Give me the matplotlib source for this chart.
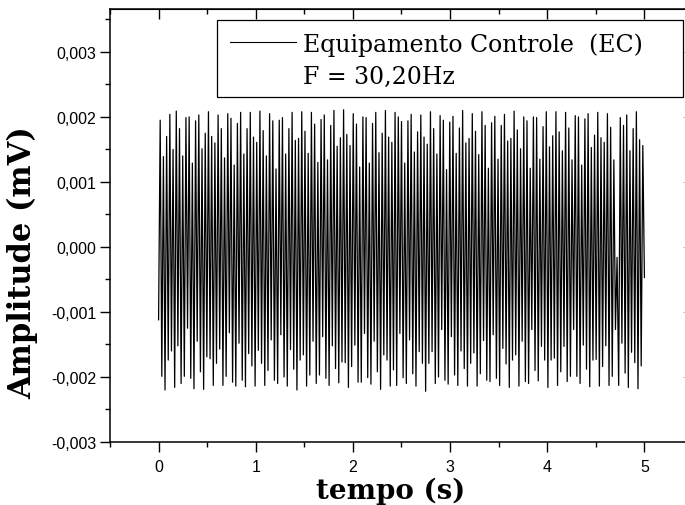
import matplotlib

matplotlib.use("Agg")
import matplotlib.pyplot as plt  # noqa: E402
import numpy as np  # noqa: E402
from matplotlib.patches import Rectangle  # noqa: E402
from matplotlib.ticker import FuncFormatter, MultipleLocator  # noqa: E402

W, H = 685, 506

# peak values per cycle (units of 1e-3 mV)
first_sample = -1.12
last_sample = -0.47
upper_peaks = [
    1.95, 1.39, 1.70, 2.04, 1.50, 2.09, 1.82, 1.40, 1.99, 2.00,
    1.29, 1.94, 2.03, 1.51, 1.75, 2.08, 1.70, 1.60, 2.03, 1.82,
    1.37, 2.05, 1.98, 1.26, 1.90, 2.07, 1.43, 1.82, 2.07, 1.69,
    1.61, 2.09, 1.79, 1.40, 2.05, 1.94, 1.20, 1.95, 1.99, 1.43,
    1.82, 2.07, 1.64, 1.67, 2.08, 1.78, 1.44,
    2.07, 1.89, 1.30, 1.96, 2.03, 1.34, 1.87, 2.10, 1.55, 1.68,
    2.11, 1.73, 1.56, 2.05, 1.89, 1.23, 2.00, 1.99, 1.29, 1.90,
    2.07, 1.45, 1.75, 2.10, 1.69, 1.61, 2.07, 2.00, 1.93, 1.29,
    1.94, 2.04, 1.46, 1.77, 2.03, 1.69, 1.58, 2.08, 1.82, 1.43,
    2.02, 1.95, 1.19, 1.92, 2.01, 1.44, 1.83, 2.10, 1.60,
    1.67, 2.05, 1.78, 1.42, 2.08, 1.87, 1.21, 1.91, 2.01, 1.35,
    1.87, 2.04, 1.63, 1.67, 2.09, 1.80, 1.51, 2.00, 1.94, 1.21,
    2.00, 1.99, 1.35, 1.85, 2.08, 1.54, 1.71, 2.08, 1.77, 1.48,
    2.07, 1.83, 1.34, 2.02, 2.00, 1.26, 1.97, 2.05, 1.53, 1.72,
    2.07, 1.68, 1.61, 2.05, 1.84, 1.34, -0.16, 1.99, 1.87, 2.03,
    1.48, 1.82, 2.08, 1.65, 1.56,
]
lower_peaks = [
    -1.99, -2.20, -1.74, -1.60, -2.16, -1.52, -2.10, -1.99, -1.25, -2.02,
    -2.18, -1.45, -1.92, -2.19, -1.69, -1.72, -2.13, -1.79, -1.57, -2.13,
    -1.99, -1.32, -2.08, -2.14, -1.48, -2.05, -2.15, -1.64, -1.83, -2.14,
    -1.59, -1.79, -2.13, -1.90, -1.43, -2.05, -2.10, -1.35, -2.00, -2.14,
    -1.58, -1.88, -2.20, -1.74, -1.66, -2.14, -1.97,
    -1.45, -2.10, -1.97, -1.38, -2.02, -2.13, -1.52, -1.87, -2.09, -1.77,
    -1.78, -2.16, -1.84, -1.51, -2.08, -2.08, -1.33, -2.01, -2.11, -1.45,
    -1.92, -2.19, -1.66, -1.74, -2.14, -1.89, -2.13, -1.33, -2.01, -2.10,
    -1.43, -1.95, -2.14, -1.61, -1.79, -2.22, -1.79, -1.61, -2.10, -2.00,
    -1.27, -2.05, -2.11, -1.38, -1.97, -2.13, -1.60, -1.87, -2.14,
    -1.79, -1.63, -2.14, -1.95, -1.44, -2.05, -2.07, -1.35, -2.02, -2.13,
    -1.56, -1.80, -2.16, -1.74, -1.66, -2.14, -1.45, -2.07, -2.10, -1.27,
    -1.90, -2.06, -1.53, -1.74, -2.16, -1.74, -1.71, -2.13, -1.92, -1.53,
    -2.07, -1.99, -1.27, -1.99, -2.10, -1.51, -1.88, -2.15, -1.74, -1.73,
    -2.14, -1.84, -1.52, -2.13, -1.99, -1.27, -2.13, -1.48, -1.94, -2.16,
    -1.62, -1.78, -2.18, -1.83,
]
t_start, t_end = 0.0, 5.0

x_ticks = [0, 1, 2, 3, 4, 5]
y_ticks = [-0.003, -0.002, -0.001, 0.0, 0.001, 0.002, 0.003]
legend_lines = ["Equipamento Controle  (EC)", "F = 30,20Hz"]
x_label = "tempo (s)"
y_label = "Amplitude (mV)"


def fx(px):
    return px / W


def fy(py):
    return 1 - py / H


# zig-zag between the read peaks
signal = [first_sample]
for i in range(len(upper_peaks)):
    signal.append(upper_peaks[i])
    if i < len(lower_peaks):
        signal.append(lower_peaks[i])
signal.append(last_sample)
signal = np.array(signal) * 1e-3
t = np.linspace(t_start, t_end, len(signal))

plt.rcParams["font.family"] = ["Liberation Sans", "DejaVu Sans"]

fig = plt.figure(figsize=(W / 100, H / 100), dpi=100)
left, right, top, bottom = 110, 693, 10, 443
ax = fig.add_axes([fx(left), fy(bottom), (right - left) / W, (bottom - top) / H])

ax.plot(t, signal, color="black", lw=0.9)

ax.set_xlim(-0.5, 5.5)
ax.set_ylim(-0.003, 0.00366)
ax.set_xticks(x_ticks)
ax.set_yticks(y_ticks)
ax.xaxis.set_minor_locator(MultipleLocator(0.5))
ax.yaxis.set_minor_locator(MultipleLocator(0.0005))
ax.yaxis.set_major_formatter(FuncFormatter(lambda v, _: f"{v:.3f}".replace(".", ",").replace("-0,000", "0,000")))
ax.xaxis.set_major_formatter(FuncFormatter(lambda v, _: f"{v:g}"))

ax.tick_params(axis="both", which="major", length=7, width=1.0, labelsize=11.5, colors="black")
ax.tick_params(axis="both", which="minor", length=3.6, width=1.0)
ax.tick_params(axis="x", which="both", direction="out", top=False, pad=5)
ax.tick_params(axis="y", which="both", direction="out", right=False, pad=3)
for spine in ax.spines.values():
    spine.set_linewidth(1.1)

# top axis with inward ticks (Origin style)
top_ax = ax.secondary_xaxis("top")
top_ax.set_xticks(x_ticks)
top_ax.xaxis.set_minor_locator(MultipleLocator(0.5))
top_ax.tick_params(which="major", direction="in", length=7, width=1.0, labeltop=False)
top_ax.tick_params(which="minor", direction="in", length=3.6, width=1.0)
right_ax = ax.secondary_yaxis("right")
right_ax.set_yticks(y_ticks)
right_ax.yaxis.set_minor_locator(MultipleLocator(0.0005))
right_ax.tick_params(which="major", direction="in", length=7, width=0.6, labelright=False, colors="#aaaaaa")
right_ax.tick_params(which="minor", direction="in", length=3.6, width=0.6, colors="#aaaaaa")

fig.text(fx(391), fy(491), x_label, ha="center", va="center",
         family="DejaVu Serif", fontweight="bold", fontsize=20)
fig.text(fx(23), fy(263), y_label, ha="center", va="center", rotation=90,
         family="DejaVu Serif", fontweight="bold", fontsize=22)

# legend box drawn in figure pixels
fig.patches.append(Rectangle((fx(217), fy(98)), (683 - 217) / W, (98 - 21) / H,
                             transform=fig.transFigure, fill=True, facecolor="white",
                             edgecolor="black", lw=0.9, zorder=5))
fig.add_artist(plt.Line2D([fx(230), fx(296)], [fy(43), fy(43)], transform=fig.transFigure,
                          color="black", lw=0.8, zorder=6))
fig.text(fx(303), fy(52), legend_lines[0], ha="left", va="baseline",
         family="DejaVu Serif", fontsize=17, zorder=6)
fig.text(fx(303), fy(84), legend_lines[1], ha="left", va="baseline",
         family="DejaVu Serif", fontsize=17, zorder=6)

fig.savefig("out.png", dpi=100)
